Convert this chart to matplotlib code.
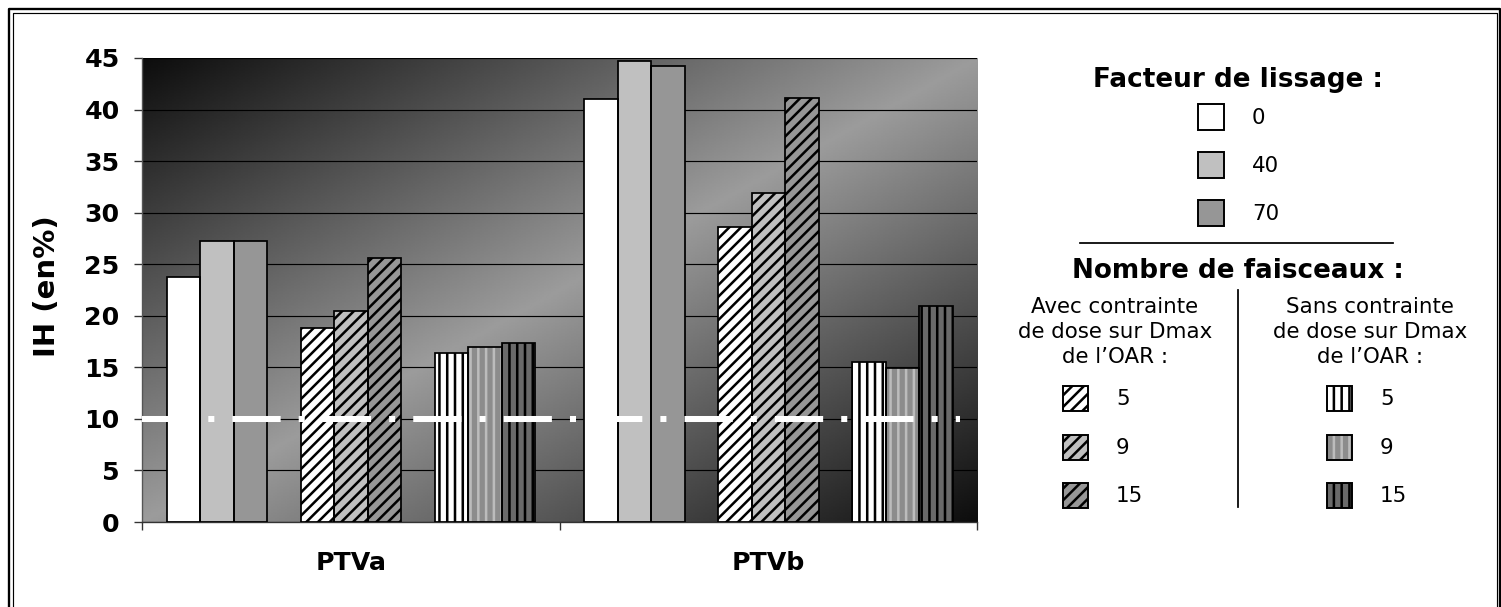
import numpy as np
import matplotlib
matplotlib.use('Agg')
import matplotlib.pyplot as plt
from matplotlib.patches import Rectangle
from matplotlib.lines import Line2D

# data
categories = ['PTVa', 'PTVb']
lissage_0 = [23.8, 41.0]
lissage_40 = [27.3, 44.7]
lissage_70 = [27.3, 44.2]
avec_5 = [18.8, 28.6]
avec_9 = [20.5, 31.9]
avec_15 = [25.6, 41.1]
sans_5 = [16.4, 15.5]
sans_9 = [17.0, 14.9]
sans_15 = [17.4, 20.9]
seuil = 10
yticks = [0, 5, 10, 15, 20, 25, 30, 35, 40, 45]

lissage_labels = ['0', '40', '70']
faisceaux_labels = ['5', '9', '15']

plt.rcParams['font.family'] = ['DejaVu Sans']
plt.rcParams['hatch.linewidth'] = 1.3

DPI = 140
W, H = 1501, 607
fig = plt.figure(figsize=(W / DPI, H / DPI), dpi=DPI)
fig.patch.set_facecolor('white')

# main axes, placed in pixels
ax = fig.add_axes([142 / W, 1 - 522 / H, (977 - 142) / W, (522 - 58) / H])

# diagonal gradient background (dark corners top-left / bottom-right)
gx = np.linspace(0, 1, 400)
gy = np.linspace(0, 1, 300)
XX, YY = np.meshgrid(gx, gy)
u = (XX + YY) / 2
grad = 0.05 + 0.56 * (1 - np.abs(2 * u - 1))
ax.imshow(grad, extent=[0, 2, 0, 45], origin='upper', aspect='auto',
          cmap='gray', vmin=0, vmax=1, zorder=0, interpolation='bilinear')

# bar styles: (values, face, hatch, hatch colour)
series = [
    (lissage_0, 'white', None, 'black'),
    (lissage_40, '#c0c0c0', None, 'black'),
    (lissage_70, '#969696', None, 'black'),
    (avec_5, 'white', '////', 'black'),
    (avec_9, '#c0c0c0', '////', 'black'),
    (avec_15, '#969696', '////', 'black'),
    (sans_5, 'white', '|||', 'black'),
    (sans_9, '#8c8c8c', '|||', '#bcbcbc'),
    (sans_15, '#6a6a6a', '|||', 'black'),
]
slots = [-5, -4, -3, -1, 0, 1, 3, 4, 5]
w = 33.5 / 417.5
centers = np.arange(len(categories)) + 0.5

for (vals, face, hatch, hcol), s in zip(series, slots):
    xs = centers + s * w
    ax.bar(xs, vals, width=w, color=face, edgecolor=hcol, hatch=hatch,
           linewidth=0, zorder=2)
    ax.bar(xs, vals, width=w, fill=False, edgecolor='black', linewidth=0.9,
           zorder=3)

# threshold line (white dash-dot)
ln, = ax.plot([0, 1.96], [seuil, seuil], color='white', lw=3.1, zorder=4)
ln.set_dashes([8, 3, 1, 3])
ln.set_dash_capstyle('butt')

ax.set_xlim(0, 2)
ax.set_ylim(0, 45)
ax.set_yticks(yticks)
ax.set_yticklabels([str(t) for t in yticks], fontsize=13, fontweight='bold')
ax.set_xticks([0, 1, 2])
ax.set_xticklabels([])
ax.set_xticks(centers, minor=True)
ax.set_xticklabels(categories, minor=True, fontsize=13, fontweight='bold')
ax.tick_params(axis='x', which='minor', length=0, pad=15)
ax.tick_params(axis='x', which='major', length=4, width=0.7, color='#333333')
ax.tick_params(axis='y', length=4, width=0.7, pad=7.5, color='#333333')
ax.grid(axis='y', color='black', lw=0.6)
ax.set_axisbelow(True)
for side in ['top', 'right']:
    ax.spines[side].set_visible(False)
ax.spines['left'].set_color('#555555')
ax.spines['bottom'].set_color('#333333')
ax.spines['left'].set_linewidth(0.7)
ax.spines['bottom'].set_linewidth(0.7)

# overlay in pixel coordinates for legend, labels and frame
ov = fig.add_axes([0, 0, 1, 1], facecolor='none')
ov.set_xlim(0, W)
ov.set_ylim(H, 0)
ov.axis('off')

ov.text(47, 286, 'IH (en%)', rotation=90, ha='center', va='center',
        fontsize=15, fontweight='bold')

# double frame round the chart
ov.add_line(Line2D([9, 9, 1499.5, 1499.5], [640, 9, 9, 640], color='black',
                   lw=1.2, clip_on=False))
ov.add_line(Line2D([12.5, 12.5, 1496.5, 1496.5], [640, 12.5, 12.5, 640],
                   color='black', lw=0.6, clip_on=False))

# legend: facteur de lissage
ov.text(1238, 80, 'Facteur de lissage :', ha='center', va='center',
        fontsize=13.5, fontweight='bold')
for (vals, face, hatch, hcol), lab, yc in zip(series[:3], lissage_labels, [117, 165, 213]):
    ov.add_patch(Rectangle((1198, yc - 13), 26, 26, facecolor=face,
                           edgecolor='black', lw=1.0))
    ov.text(1252, yc + 1, lab, ha='left', va='center', fontsize=11)

ov.add_line(Line2D([1080, 1393], [243, 243], color='black', lw=0.9))
ov.text(1238, 271, 'Nombre de faisceaux :', ha='center', va='center',
        fontsize=13.5, fontweight='bold')
ov.add_line(Line2D([1238, 1238], [290, 507], color='black', lw=0.9))

for xc, head in [(1115, 'Avec contrainte'), (1370, 'Sans contrainte')]:
    for txt, yy in zip([head, 'de dose sur Dmax', 'de l\u2019OAR :'], [307, 332, 357]):
        ov.text(xc, yy, txt, ha='center', va='center', fontsize=11)

for group, xb in [(series[3:6], 1063), (series[6:9], 1327)]:
    for (vals, face, hatch, hcol), lab, yc in zip(group, faisceaux_labels, [398, 447, 495]):
        ov.add_patch(Rectangle((xb, yc - 12.5), 25, 25, facecolor=face,
                               edgecolor=hcol, hatch=hatch, lw=0))
        ov.add_patch(Rectangle((xb, yc - 12.5), 25, 25, fill=False,
                               edgecolor='black', lw=1.0))
        ov.text(xb + 53, yc + 1, lab, ha='left', va='center', fontsize=11)

fig.savefig('out.png', dpi=DPI)
